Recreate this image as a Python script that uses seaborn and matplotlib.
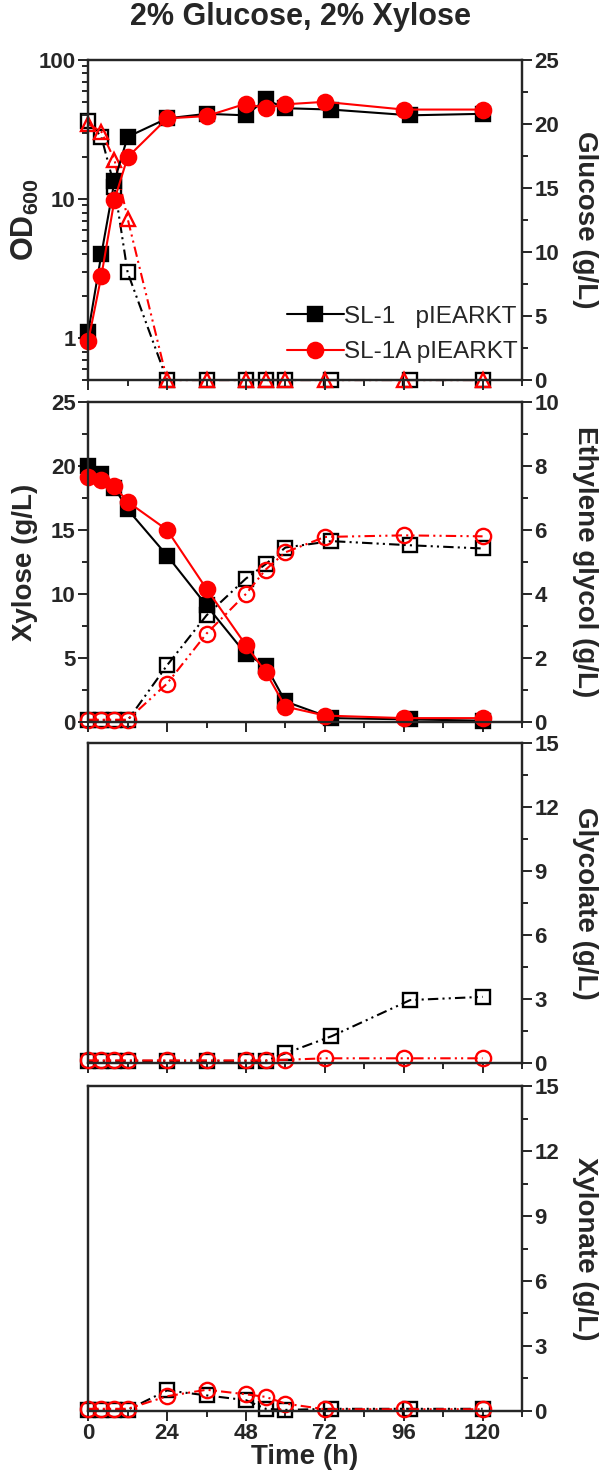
import matplotlib
matplotlib.use("Agg")
import matplotlib.pyplot as plt
from matplotlib.ticker import MultipleLocator, LogLocator, NullFormatter, FixedLocator
import seaborn as sns

sns.set_style("ticks")
plt.rcParams["font.family"] = ["Liberation Sans", "DejaVu Sans"]
plt.rcParams["font.weight"] = "bold"
plt.rcParams["axes.labelweight"] = "bold"
plt.rcParams["mathtext.fontset"] = "custom"
plt.rcParams["mathtext.bf"] = "Liberation Sans:bold"
plt.rcParams["mathtext.rm"] = "Liberation Sans:bold"

# sampling times (h)
time_sl1 = [0, 4, 8, 12, 24, 36, 48, 54, 60, 74, 98, 120]
time_sl1a = [0, 4, 8, 12, 24, 36, 48, 54, 60, 72, 96, 120]

# OD600
od_sl1 = [1.1, 4.0, 13.5, 28, 38, 41, 40, 52, 45, 44, 40, 41]
od_sl1a = [0.95, 2.8, 9.9, 20, 38, 39.5, 48.5, 45, 48, 50, 44, 44]

# glucose (g/L)
glucose_sl1 = [20.2, 19.0, 15.1, 8.4, 0, 0, 0, 0, 0, 0, 0, 0]
glucose_sl1a = [20.0, 19.4, 17.2, 12.6, 0, 0, 0, 0, 0, 0, 0, 0]

# xylose (g/L)
xylose_sl1 = [20.0, 19.4, 18.3, 16.6, 13.0, 9.1, 5.3, 4.4, 1.6, 0.3, 0.2, 0.1]
xylose_sl1a = [19.1, 18.9, 18.4, 17.2, 15.0, 10.4, 6.0, 3.9, 1.2, 0.5, 0.3, 0.3]

# ethylene glycol (g/L)
eg_sl1 = [0.05, 0.05, 0.05, 0.05, 1.77, 3.33, 4.48, 4.93, 5.45, 5.65, 5.52, 5.42]
eg_sl1a = [0.07, 0.07, 0.07, 0.07, 1.2, 2.76, 4.0, 4.76, 5.3, 5.78, 5.83, 5.8]

# glycolate (g/L)
glycolate_sl1 = [0.1, 0.1, 0.1, 0.1, 0.1, 0.1, 0.1, 0.1, 0.45, 1.25, 2.95, 3.1]
glycolate_sl1a = [0.12, 0.12, 0.12, 0.12, 0.12, 0.12, 0.12, 0.12, 0.15, 0.22, 0.22, 0.22]

# xylonate (g/L)
xylonate_sl1 = [0.05, 0.05, 0.05, 0.05, 0.95, 0.72, 0.5, 0.1, 0.05, 0.1, 0.1, 0.1]
xylonate_sl1a = [0.1, 0.1, 0.1, 0.1, 0.68, 0.98, 0.77, 0.65, 0.34, 0.08, 0.08, 0.08]

BLACK = "#000000"
RED = "#ff0000"
DASH_DOT_DOT = (0, (5, 2, 1, 2, 1, 2))
TICK_FS = 16
LABEL_FS = 20
LEFT_LABEL_X = -0.145
RIGHT_LABEL_X = 1.145


def draw(ax, t, vals, color, marker, filled, solid):
    size = 11 if marker == "o" else 10
    sns.lineplot(
        x=t, y=vals, ax=ax, color=color, marker=marker, markersize=size,
        markerfacecolor=color if filled else "none", markeredgecolor=color,
        markeredgewidth=1.7, linewidth=1.5,
        linestyle="-" if solid else DASH_DOT_DOT, clip_on=False,
    )
    return ax.lines[-1]


def style_axis(ax, show_xlabels=False):
    ax.set_xlim(0, 132)
    ax.xaxis.set_major_locator(MultipleLocator(24))
    ax.xaxis.set_minor_locator(MultipleLocator(12))
    ax.tick_params(which="both", direction="out", width=1.4, labelsize=TICK_FS, pad=2)
    ax.tick_params(which="major", length=7)
    ax.tick_params(which="minor", length=4)
    ax.tick_params(axis="x", labelbottom=show_xlabels)
    for s in ax.spines.values():
        s.set_linewidth(1.6)
        s.set_visible(True)
    ax.set_xlabel("")


def left_label(ax, text, size=LABEL_FS):
    ax.set_ylabel(text, fontsize=size, rotation=90, va="center", ha="center")
    ax.yaxis.set_label_coords(LEFT_LABEL_X, 0.5)


def right_label(ax, text):
    ax.set_ylabel(text, fontsize=LABEL_FS, rotation=270, va="center", ha="center")
    ax.yaxis.set_label_coords(RIGHT_LABEL_X, 0.5)


fig = plt.figure(figsize=(6, 14.77), dpi=100)
left, width = 0.147, 0.723
ax1 = fig.add_axes([left, 0.7427, width, 0.2167])
ax2 = fig.add_axes([left, 0.5112, width, 0.2167])
ax3 = fig.add_axes([left, 0.2803, width, 0.2167])
ax4 = fig.add_axes([left, 0.0447, width, 0.2200])

# panel 1: OD600 and glucose
ax1r = ax1.twinx()
draw(ax1r, time_sl1, glucose_sl1, BLACK, "s", False, False)
draw(ax1r, time_sl1a, glucose_sl1a, RED, "^", False, False)
h1 = draw(ax1, time_sl1, od_sl1, BLACK, "s", True, True)
h2 = draw(ax1, time_sl1a, od_sl1a, RED, "o", True, True)
ax1.set_zorder(ax1r.get_zorder() + 1)
ax1.patch.set_visible(False)
ax1.set_yscale("log")
ax1.set_ylim(0.5, 100)
ax1.yaxis.set_major_locator(FixedLocator([1, 10, 100]))
ax1.yaxis.set_minor_locator(LogLocator(base=10, subs=range(2, 10)))
ax1.yaxis.set_minor_formatter(NullFormatter())
ax1.set_yticklabels(["1", "10", "100"])
ax1r.set_ylim(0, 25)
ax1r.yaxis.set_major_locator(MultipleLocator(5))
ax1r.yaxis.set_minor_locator(MultipleLocator(2.5))
left_label(ax1, r"$\mathbf{OD_{600}}$", size=LABEL_FS + 2)
right_label(ax1r, "Glucose (g/L)")
leg = ax1.legend(handles=[h1, h2], labels=["SL-1   pIEARKT", "SL-1A pIEARKT"],
                 loc="lower right", bbox_to_anchor=(0.99, 0.052), frameon=False,
                 borderaxespad=0, borderpad=0,
                 handlelength=2.35, handletextpad=0.0, labelspacing=0.55,
                 prop={"size": 17.5, "weight": "normal"})

# panel 2: xylose and ethylene glycol
ax2r = ax2.twinx()
draw(ax2r, time_sl1, eg_sl1, BLACK, "s", False, False)
draw(ax2r, time_sl1a, eg_sl1a, RED, "o", False, False)
draw(ax2, time_sl1, xylose_sl1, BLACK, "s", True, True)
draw(ax2, time_sl1a, xylose_sl1a, RED, "o", True, True)
ax2.set_zorder(ax2r.get_zorder() + 1)
ax2.patch.set_visible(False)
ax2.set_ylim(0, 25)
ax2.yaxis.set_major_locator(MultipleLocator(5))
ax2.yaxis.set_minor_locator(MultipleLocator(2.5))
ax2r.set_ylim(0, 10)
ax2r.yaxis.set_major_locator(MultipleLocator(2))
ax2r.yaxis.set_minor_locator(MultipleLocator(1))
left_label(ax2, "Xylose (g/L)")
right_label(ax2r, "Ethylene glycol (g/L)")

# panel 3: glycolate
ax3r = ax3.twinx()
draw(ax3r, time_sl1, glycolate_sl1, BLACK, "s", False, False)
draw(ax3r, time_sl1a, glycolate_sl1a, RED, "o", False, False)
ax3r.set_ylim(0, 15)
ax3r.yaxis.set_major_locator(MultipleLocator(3))
ax3r.yaxis.set_minor_locator(MultipleLocator(1.5))
right_label(ax3r, "Glycolate (g/L)")

# panel 4: xylonate
ax4r = ax4.twinx()
draw(ax4r, time_sl1, xylonate_sl1, BLACK, "s", False, False)
draw(ax4r, time_sl1a, xylonate_sl1a, RED, "o", False, False)
ax4r.set_ylim(0, 15)
ax4r.yaxis.set_major_locator(MultipleLocator(3))
ax4r.yaxis.set_minor_locator(MultipleLocator(1.5))
right_label(ax4r, "Xylonate (g/L)")

for ax in [ax1, ax1r, ax2, ax2r, ax3, ax3r]:
    style_axis(ax)
style_axis(ax4, show_xlabels=True)
style_axis(ax4r)
for ax in [ax3, ax4]:
    ax.set_yticks([])
    ax.yaxis.set_minor_locator(FixedLocator([]))
    ax.set_ylabel("")
ax4.set_xlabel("Time (h)", fontsize=LABEL_FS, labelpad=0)

fig.text(0.5, 1 - 17 / 1477, "2% Glucose, 2% Xylose", ha="center", va="center",
         fontsize=22, fontweight="bold")

plt.savefig("out.png", dpi=100)
plt.close()
